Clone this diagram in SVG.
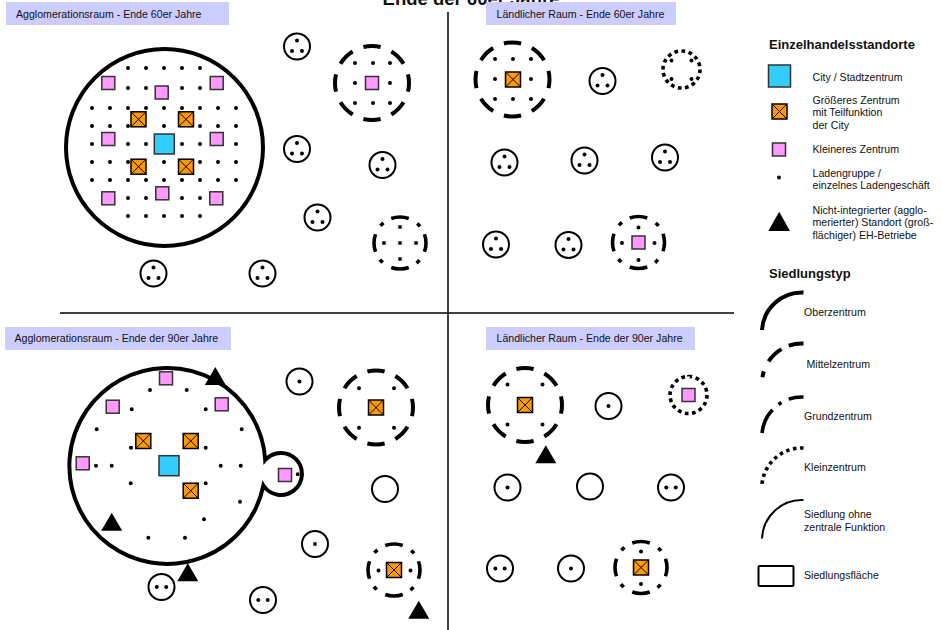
<svg xmlns="http://www.w3.org/2000/svg" width="942" height="630" viewBox="0 0 942 630">
<style>
text{font-family:"Liberation Sans",Arial,sans-serif;font-size:10.6px;fill:#111}
.title{font-weight:bold;font-size:18.5px}
.head{font-weight:bold;font-size:13px}
.lbl{fill:#CCCCFF}
.big{fill:#fff;stroke:#000;stroke-width:4}
.mz{fill:#fff;stroke:#000;stroke-width:4;stroke-dasharray:7.5 5;stroke-dashoffset:3.75}
.gz{fill:#fff;stroke:#000;stroke-width:3.6;stroke-dasharray:11 6 2.5 5.5;stroke-dashoffset:5.5}
.kz{fill:#fff;stroke:#000;stroke-width:3.6;stroke-dasharray:3.2 3.05}
.dots{fill:none;stroke:#000;stroke-width:4;stroke-linecap:round}
.div{stroke:#000;stroke-width:1.5;fill:none}
.arc{fill:none;stroke:#000}
</style>
<defs>
<circle id="d" r="2"/>
<rect id="p" x="-6.5" y="-6.5" width="13" height="13" fill="#FF99FF" stroke="#333" stroke-width="1.5"/>
<g id="o"><rect x="-7.5" y="-7.5" width="15" height="15" fill="#FF9900" stroke="#000" stroke-width="1.5"/><path d="M-7.5-7.5L7.5 7.5M7.5-7.5L-7.5 7.5" stroke="#000" stroke-width="1"/></g>
<rect id="b" x="-10" y="-10" width="20" height="20" fill="#33CCFF" stroke="#333" stroke-width="1.5"/>
<path id="t" d="M0-9L10.5 9H-10.5Z"/>
<circle id="c0" r="13" fill="#fff" stroke="#000" stroke-width="2"/>
<g id="c1"><use href="#c0"/><circle r="2"/></g>
<g id="c2"><use href="#c0"/><circle cx="-4.7" r="2"/><circle cx="4.7" r="2"/></g>
<g id="c3"><use href="#c0"/><circle cy="-6" r="2"/><circle cx="-5" cy="4.5" r="2"/><circle cx="5" cy="4.5" r="2"/></g>
</defs>
<rect width="942" height="630" fill="#fff"/>

<text class="title" x="471" y="4.5" text-anchor="middle">Ende der 60er Jahre</text>

<g id="dividers">
<path class="div" d="M448 12V630M60 313H734"/>
</g>

<g id="labels">
<rect class="lbl" x="6" y="2" width="223" height="23"/>
<text x="16" y="17.5">Agglomerationsraum - Ende 60er Jahre</text>
<rect class="lbl" x="486" y="2" width="190" height="23"/>
<text x="496.5" y="18">Ländlicher Raum - Ende 60er Jahre</text>
<rect class="lbl" x="5" y="327" width="226" height="23"/>
<text x="14.5" y="342">Agglomerationsraum - Ende der 90er Jahre</text>
<rect class="lbl" x="486" y="327" width="209" height="23"/>
<text x="496.5" y="342">Ländlicher Raum - Ende der 90er Jahre</text>
</g>

<!-- Agglomeration 60er -->
<g id="a60-oberzentrum">
<circle class="big" cx="164.5" cy="147.5" r="98.5"/>
<path class="dots" d="M128 68h0M146 68h0M164 68h0M182 68h0M200 68h0
M128 88h0M146 88h0M182 88h0M200 88h0
M92 108h0M110 108h0M128 108h0M146 108h0M164 108h0M182 108h0M200 108h0M218 108h0M236 108h0
M92 126h0M110 126h0M128 126h0M164 126h0M200 126h0M218 126h0M236 126h0
M92 144h0M128 144h0M146 144h0M182 144h0M200 144h0M236 144h0
M92 162h0M110 162h0M128 162h0M164 162h0M200 162h0M218 162h0M236 162h0
M92 180h0M110 180h0M128 180h0M146 180h0M164 180h0M182 180h0M200 180h0M218 180h0M236 180h0
M128 198h0M146 198h0M182 198h0M200 198h0
M128 216h0M146 216h0M164 216h0M182 216h0M200 216h0"/>
<use href="#p" x="108.3" y="83"/><use href="#p" x="161.7" y="92.5"/><use href="#p" x="216.7" y="83"/>
<use href="#p" x="108.3" y="139"/><use href="#p" x="216.7" y="139"/>
<use href="#p" x="108.3" y="198.3"/><use href="#p" x="162.3" y="193.3"/><use href="#p" x="216.3" y="198.3"/>
<use href="#o" x="138.5" y="119.3"/><use href="#o" x="186" y="119.3"/>
<use href="#o" x="138.5" y="166.7"/><use href="#o" x="186" y="166.7"/>
<use href="#b" x="164.3" y="144"/>
</g>
<g id="a60-s1"><use href="#c3" x="297" y="46.5"/></g>
<g id="a60-s2"><use href="#c3" x="297" y="149"/></g>
<g id="a60-s3"><use href="#c3" x="382.5" y="165"/></g>
<g id="a60-s4"><use href="#c3" x="317.5" y="217.5"/></g>
<g id="a60-s5"><use href="#c3" x="153.5" y="273.5"/></g>
<g id="a60-s6"><use href="#c3" x="262.5" y="273.5"/></g>
<g id="a60-mittelzentrum">
<circle class="mz" cx="372" cy="83" r="37" pathLength="100"/>
<path class="dots" d="M355 63h0M373 63h0M390 63h0M355 83h0M390 83h0M355 103h0M373 103h0M390 103h0"/>
<use href="#p" x="372" y="83"/>
</g>
<g id="a60-grundzentrum">
<circle class="gz" cx="400" cy="243" r="26" pathLength="100"/>
<path class="dots" d="M400 227h0M384 243h0M400 243h0M416 243h0M400 259h0"/>
</g>

<!-- Ländlicher Raum 60er -->
<g id="l60-mittelzentrum">
<circle class="mz" cx="512.5" cy="79.5" r="37" pathLength="100"/>
<path class="dots" d="M495 59h0M513 59h0M531 59h0M495 79h0M531 79h0M495 99h0M513 99h0M531 99h0"/>
<use href="#o" x="513" y="79.5"/>
</g>
<g id="l60-s1"><use href="#c3" x="602.5" y="81"/></g>
<g id="l60-kleinzentrum">
<circle class="kz" cx="681.5" cy="69.5" r="18.5" pathLength="100"/>
<path class="dots" d="M671.5 60.5h0M691.5 60.5h0M671.5 79h0M691.5 79h0"/>
</g>
<g id="l60-s2"><use href="#c3" x="504.5" y="162.5"/></g>
<g id="l60-s3"><use href="#c3" x="584.5" y="160.5"/></g>
<g id="l60-s4"><use href="#c3" x="665" y="157.5"/></g>
<g id="l60-s5"><use href="#c3" x="496" y="244.5"/></g>
<g id="l60-s6"><use href="#c3" x="568.5" y="245"/></g>
<g id="l60-grundzentrum">
<circle class="gz" cx="638.5" cy="242.5" r="26" pathLength="100"/>
<path class="dots" d="M638.5 227.5h0M622 243h0M654.5 243h0M638.5 260h0"/>
<use href="#p" x="638.5" y="242.5"/>
</g>

<!-- Agglomeration 90er -->
<g id="a90-oberzentrum">
<path class="big" d="M265.2 460A98 98 0 1 0 263.4 485.5A21 21 0 1 0 265.2 460Z"/>
<path class="dots" d="M150 390h0M186.7 390h0M131.7 409.3h0M205.7 409.3h0M96.7 429.3h0M241.7 429.3h0M131 447.7h0M205.7 447.7h0M96 465.7h0M111.7 465.7h0M220.7 465.7h0M240.7 465.7h0M130.7 483.3h0M205.7 483.3h0M240 501.7h0M204 519.3h0M148.3 537.7h0M185 537.7h0M297.7 474.3h0"/>
<use href="#p" x="166" y="378.3"/><use href="#p" x="112.7" y="406.7"/><use href="#p" x="221.7" y="404.3"/>
<use href="#p" x="82.7" y="463.3"/><use href="#p" x="285" y="475"/>
<use href="#o" x="143.3" y="441"/><use href="#o" x="190.7" y="441"/><use href="#o" x="190.7" y="490.7"/>
<use href="#b" x="169" y="465.7"/>
</g>
<g id="a90-ni1"><use href="#t" x="215.3" y="376"/></g>
<g id="a90-ni2"><use href="#t" x="111.7" y="521.7"/></g>
<g id="a90-ni3"><use href="#t" x="187.8" y="572.2"/></g>
<g id="a90-s1"><use href="#c1" x="299.5" y="381.5"/></g>
<g id="a90-s2"><use href="#c1" x="315" y="544"/></g>
<g id="a90-s3"><use href="#c2" x="161.5" y="587"/></g>
<g id="a90-s4"><use href="#c2" x="263" y="600"/></g>
<g id="a90-s5"><use href="#c0" x="385" y="489"/></g>
<g id="a90-mittelzentrum">
<circle class="mz" cx="376" cy="407.5" r="37" pathLength="100"/>
<path class="dots" d="M359 388.3h0M394 388.3h0M359 427.7h0M394 427.7h0"/>
<use href="#o" x="376" y="407.5"/>
</g>
<g id="a90-grundzentrum">
<circle class="gz" cx="394" cy="570" r="26" pathLength="100"/>
<path class="dots" d="M378.5 570.5h0M410.5 570.5h0"/>
<use href="#o" x="394" y="570"/>
</g>
<g id="a90-ni4"><use href="#t" x="418.8" y="609.7"/></g>

<!-- Ländlicher Raum 90er -->
<g id="l90-mittelzentrum">
<circle class="mz" cx="525" cy="405" r="37" pathLength="100"/>
<path class="dots" d="M507.5 384.5h0M542.5 384.5h0M507.5 424.5h0M542.5 424.5h0"/>
<use href="#o" x="525" y="405"/>
</g>
<g id="l90-ni1"><use href="#t" x="545.8" y="454.2"/></g>
<g id="l90-s1"><use href="#c1" x="608.5" y="406"/></g>
<g id="l90-kleinzentrum">
<circle class="kz" cx="688.5" cy="395" r="18.5" pathLength="100"/>
<use href="#p" x="688.5" y="395"/>
</g>
<g id="l90-s2"><use href="#c1" x="507.5" y="487.5"/></g>
<g id="l90-s3"><use href="#c0" x="590" y="486.5"/></g>
<g id="l90-s4"><use href="#c2" x="671" y="487.5"/></g>
<g id="l90-s5"><use href="#c2" x="500" y="568.5"/></g>
<g id="l90-s6"><use href="#c1" x="571" y="568.5"/></g>
<g id="l90-grundzentrum">
<circle class="gz" cx="641" cy="567.5" r="26" pathLength="100"/>
<path class="dots" d="M641 551.5h0M641 584h0"/>
<use href="#o" x="641" y="567.5"/>
</g>

<!-- Legend -->
<g id="legend">
<text class="head" x="769" y="48.5">Einzelhandelsstandorte</text>
<rect x="768.5" y="65" width="22" height="22" fill="#33CCFF" stroke="#333" stroke-width="1.5"/>
<text x="812.5" y="80.5">City / Stadtzentrum</text>
<use href="#o" x="779.5" y="111.5"/>
<text x="812.5" y="103.5">Größeres Zentrum</text>
<text x="812.5" y="116">mit Teilfunktion</text>
<text x="812.5" y="128.5">der City</text>
<use href="#p" x="779" y="149.5"/>
<text x="812.5" y="152.5">Kleineres Zentrum</text>
<use href="#d" x="779" y="177.5"/>
<text x="812.5" y="176.5">Ladengruppe /</text>
<text x="812.5" y="188.5">einzelnes Ladengeschäft</text>
<path d="M779.2 211.7L790 231H768.3Z"/>
<text x="812.5" y="213.5">Nicht-integrierter (agglo-</text>
<text x="812.5" y="226">merierter) Standort (groß-</text>
<text x="812.5" y="238.5">flächiger) EH-Betriebe</text>
<text class="head" x="769" y="277.5">Siedlungstyp</text>
<path class="arc" style="stroke-width:4" d="M762 330A40 40 0 0 1 803.5 292.5"/>
<text x="804" y="316">Oberzentrum</text>
<path class="arc" style="stroke-width:4;stroke-dasharray:15 8 18 11 6" d="M803.5 343.5A40 40 0 0 0 762 381.5"/>
<text x="806.5" y="367.5">Mittelzentrum</text>
<path class="arc" style="stroke-width:3.6;stroke-dasharray:15 8 3.5 8 30" d="M803.5 397A40 40 0 0 0 762 433"/>
<text x="804" y="419.5">Grundzentrum</text>
<path class="arc" style="stroke-width:3.6;stroke-dasharray:3.5 3.6" d="M803.5 448A40 40 0 0 0 762 484"/>
<text x="804" y="471">Kleinzentrum</text>
<path class="arc" style="stroke-width:2" d="M762 538.5A40 40 0 0 1 803.5 500"/>
<text x="804" y="517.5">Siedlung ohne</text>
<text x="804" y="530.5">zentrale Funktion</text>
<rect x="758.5" y="566" width="35" height="20" rx="1" fill="#fff" stroke="#000" stroke-width="2"/>
<text x="804" y="578.5">Siedlungsfläche</text>
</g>
</svg>
